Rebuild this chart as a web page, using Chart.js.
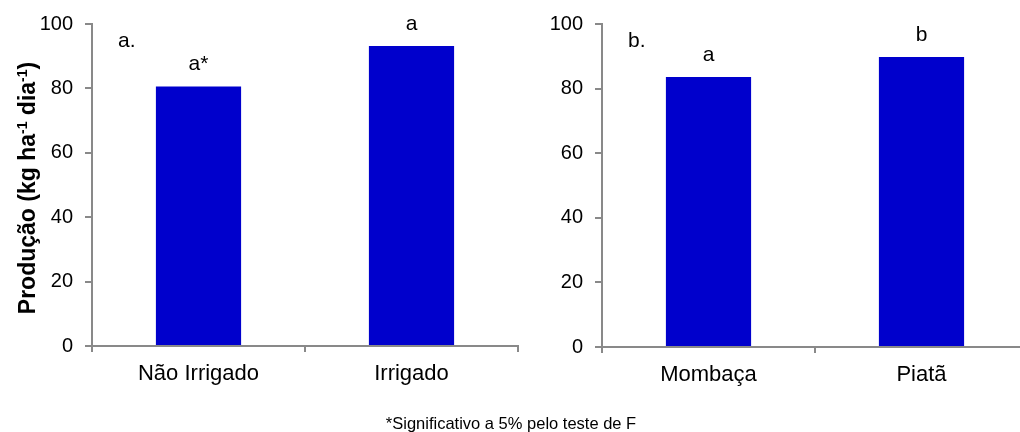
<!DOCTYPE html>
<html>
<head>
<meta charset="utf-8">
<script src="https://cdn.jsdelivr.net/npm/chart.js@4.4.1/dist/chart.umd.min.js"></script>
<style>
  html, body { margin: 0; padding: 0; background: #fff; overflow: hidden; width: 1020px; height: 432px; }
  .panel { position: absolute; top: 0; width: 540px; height: 432px; }
  #panelA { left: 0; }
  #panelB { left: 510px; }
  #note {
    position: absolute; left: 0; top: 413px; width: 1022px; text-align: center;
    font-family: "Liberation Sans", Arial, sans-serif; font-size: 16.5px; line-height: 20px; color: #000;
  }
</style>
</head>
<body>
<div class="panel" id="panelA"><canvas id="chartA" width="540" height="432"></canvas></div>
<div class="panel" id="panelB"><canvas id="chartB" width="540" height="432"></canvas></div>
<div id="note">*Significativo a 5% pelo teste de F</div>
<script>
// Production by irrigation regime (a) and by grass cultivar (b)
const categoriesA = ['Não Irrigado', 'Irrigado'];
const valuesA = [80.6, 93.2];
const lettersA = ['a*', 'a'];

const categoriesB = ['Mombaça', 'Piatã'];
const valuesB = [83.6, 89.8];
const lettersB = ['a', 'b'];

const yTicks = [0, 20, 40, 60, 80, 100];

const FONT = '"Liberation Sans", Arial, sans-serif';
const AXIS = '#898989';
const BAR = '#0000CC';

// Significance letters above each bar and the panel tag in the corner
const letterPlugin = {
  id: 'letters',
  afterDatasetsDraw(chart, args, opts) {
    const ctx = chart.ctx;
    const meta = chart.getDatasetMeta(0);
    ctx.save();
    ctx.fillStyle = '#000';
    ctx.font = '21px ' + FONT;
    ctx.textAlign = 'center';
    ctx.textBaseline = 'alphabetic';
    meta.data.forEach((bar, i) => {
      ctx.fillText(opts.letters[i], bar.x, bar.y - 16);
    });
    ctx.textAlign = 'left';
    ctx.fillText(opts.tag, chart.chartArea.left + 26, chart.chartArea.top + 23);
    ctx.restore();
  }
};

// Rotated axis title with superscript exponents
const yTitlePlugin = {
  id: 'yTitle',
  afterDraw(chart, args, opts) {
    if (!opts.parts) return;
    const ctx = chart.ctx;
    const area = chart.chartArea;
    const big = 'bold 23px ' + FONT;
    const small = 'bold 14px ' + FONT;
    ctx.save();
    let total = 0;
    opts.parts.forEach(p => { ctx.font = p.sup ? small : big; total += ctx.measureText(p.text).width; });
    ctx.translate(opts.x, (area.top + area.bottom) / 2 + 3);
    ctx.rotate(-Math.PI / 2);
    ctx.fillStyle = '#000';
    ctx.textBaseline = 'alphabetic';
    ctx.textAlign = 'left';
    let x = -total / 2;
    opts.parts.forEach(p => {
      ctx.font = p.sup ? small : big;
      ctx.fillText(p.text, x, p.sup ? -8 : 0);
      x += ctx.measureText(p.text).width;
    });
    ctx.restore();
  }
};

function makeChart(id, cats, vals, letters, tag, xHeight, title) {
  return new Chart(document.getElementById(id), {
    type: 'bar',
    data: {
      labels: cats,
      datasets: [{
        data: vals,
        backgroundColor: BAR,
        borderWidth: 0,
        barPercentage: 0.4,
        categoryPercentage: 1.0
      }]
    },
    options: {
      responsive: false,
      animation: false,
      events: [],
      layout: { padding: { left: 0, right: 22, top: 22, bottom: 0 } },
      plugins: {
        legend: { display: false },
        tooltip: { enabled: false },
        letters: { letters: letters, tag: tag },
        yTitle: title
      },
      scales: {
        x: {
          offset: true,
          grid: { offset: true, drawOnChartArea: false, drawTicks: true, tickLength: 6, color: AXIS, lineWidth: 2 },
          border: { display: true, color: AXIS, width: 2 },
          ticks: { color: '#000', font: { family: FONT, size: 22 }, padding: 9, maxRotation: 0 },
          afterFit(s) { s.height = xHeight; }
        },
        y: {
          min: 0, max: 100,
          afterBuildTicks(s) { s.ticks = yTicks.map(v => ({ value: v })); },
          grid: { drawOnChartArea: false, drawTicks: true, tickLength: 7, color: AXIS, lineWidth: 2 },
          border: { display: true, color: AXIS, width: 2 },
          ticks: { color: '#000', font: { family: FONT, size: 20 }, padding: 12 },
          afterFit(s) { s.width = 92; }
        }
      }
    },
    plugins: [letterPlugin, yTitlePlugin]
  });
}

makeChart('chartA', categoriesA, valuesA, lettersA, 'a.', 86, {
  x: 35,
  parts: [
    { text: 'Produção (kg ha' }, { text: '-1', sup: true },
    { text: ' dia' }, { text: '-1', sup: true }, { text: ')' }
  ]
});
makeChart('chartB', categoriesB, valuesB, lettersB, 'b.', 85, {});
</script>
</body>
</html>
